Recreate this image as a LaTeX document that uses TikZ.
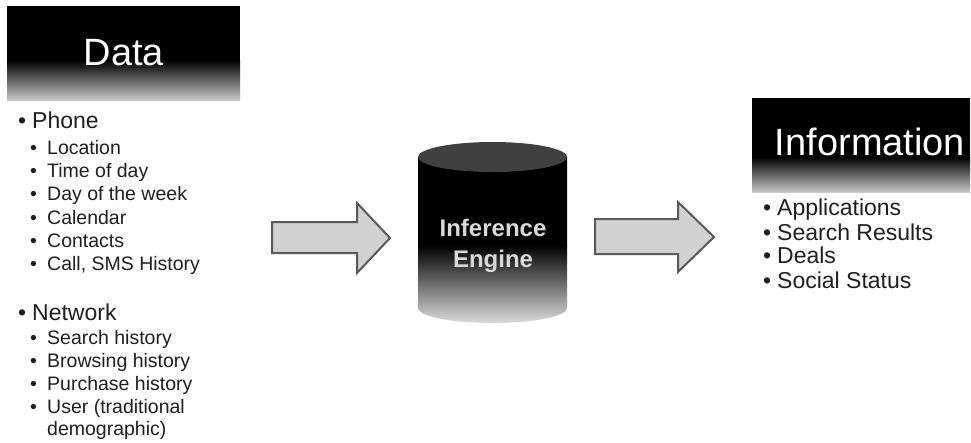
\documentclass[tikz,border=0pt]{standalone}
\usepackage{fontspec}
\setmainfont{Liberation Sans}
\begin{document}
\begin{tikzpicture}[x=1pt,y=-1pt,
  hdrtext/.style={text=white, font=\fontsize{38}{38}\selectfont, anchor=base, inner sep=0},
  lvlone/.style={anchor=base west, inner sep=0, text=black!88, font=\fontsize{23}{23}\selectfont},
  lvltwo/.style={anchor=base west, inner sep=0, text=black!88, font=\fontsize{19.5}{19.5}\selectfont},
  blockarrow/.style={draw=black!65, line width=2pt, fill=black!18, line join=miter},
  enginetext/.style={text=black!15, font=\bfseries\fontsize{24}{24}\selectfont, anchor=base, inner sep=0},
]
\useasboundingbox (0,0) rectangle (971,442);
\fill[white] (0,0) rectangle (971,442);

% Data header
\fill[black] (7,6) rectangle (240,61);
\shade[top color=black, bottom color=black!22] (7,60) rectangle (240,100);
\node[hdrtext] (data) at (124,65) {Data};

% Data bullets
\newcommand{\bone}{\makebox[14pt][l]{\textbullet}}
\newcommand{\btwo}{\makebox[17pt][l]{\textbullet}}
\node[lvlone] (phone) at (18,128) {\bone Phone};
\node[lvltwo] (loc) at (30,154) {\btwo Location};
\node[lvltwo] (tod) at (30,177) {\btwo Time of day};
\node[lvltwo] (dow) at (30,200) {\btwo Day of the week};
\node[lvltwo] (cal) at (30,224) {\btwo Calendar};
\node[lvltwo] (con) at (30,247) {\btwo Contacts};
\node[lvltwo] (sms) at (30,270) {\btwo Call, SMS History};
\node[lvlone] (net) at (18,320) {\bone Network};
\node[lvltwo] (srch) at (30,344) {\btwo Search history};
\node[lvltwo] (brow) at (30,367) {\btwo Browsing history};
\node[lvltwo] (purch) at (30,390) {\btwo Purchase history};
\node[lvltwo] (user) at (30,413) {\btwo User (traditional};
\node[lvltwo] (demo) at (47,435) {demographic)};

% Arrows
\draw[blockarrow] (272,222) -- (357,222) -- (357,203) -- (390,238) -- (357,273) -- (357,253) -- (272,253) -- cycle;
\draw[blockarrow] (595,219) -- (678,219) -- (678,202) -- (714,237) -- (678,272) -- (678,254) -- (595,254) -- cycle;

% Cylinder
\begin{scope}
\clip (418,157) -- (418,308) arc[start angle=180, end angle=0, x radius=74.5, y radius=15] -- (567,157) -- cycle;
\fill[black] (410,140) rectangle (575,246);
\shade[top color=black, bottom color=black!12] (410,245) rectangle (575,325);
\end{scope}
\fill[black!75] (492.5,157) ellipse[x radius=74.5, y radius=15];
\node[enginetext] (eng1) at (493,236) {Inference};
\node[enginetext] (eng2) at (493,267) {Engine};

% Information header
\fill[black] (752,98) rectangle (970,158);
\shade[top color=black, bottom color=black!22] (752,157) rectangle (970,192);
\node[hdrtext] (info) at (870,155) {Information};

% Information bullets
\node[lvlone] (apps) at (763,215) {\bone Applications};
\node[lvlone] (res) at (763,240) {\bone Search Results};
\node[lvlone] (deals) at (763,263) {\bone Deals};
\node[lvlone] (soc) at (763,288) {\bone Social Status};
\end{tikzpicture}
\end{document}
